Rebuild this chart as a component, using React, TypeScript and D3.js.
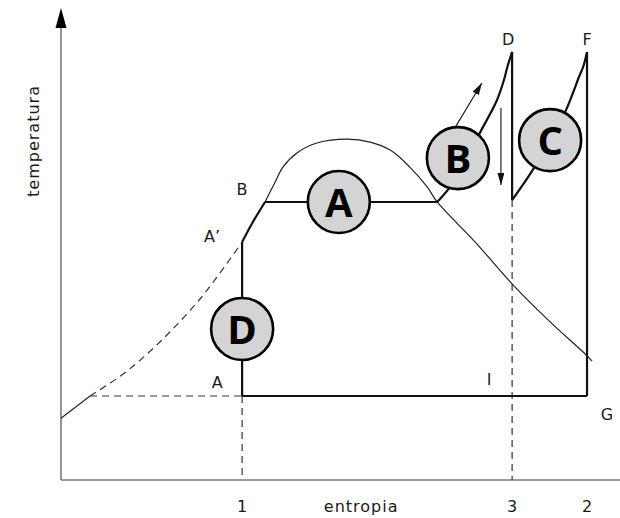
import React from "react";
import * as d3 from "d3";

const W = 620;
const H = 518;

type Pt = [number, number]; // [entropy, temperature] in arbitrary diagram units

// Saturation curve: short solid foot, dashed liquid branch, then the dome
const liquidFoot: Pt[] = [[0, 1.31], [0.52, 1.78]];
const liquidDashed: Pt[] = [
  [0.52, 1.78], [1.06, 2.2], [1.54, 2.67], [2.0, 3.2],
  [2.49, 3.84], [2.84, 4.38], [3.24, 5.04],
];
const dome: Pt[] = [
  [3.65, 5.89], [3.83, 6.31], [3.97, 6.63], [4.22, 6.93], [4.58, 7.14],
  [5.12, 7.22], [5.53, 7.16], [5.89, 6.99], [6.24, 6.63], [6.55, 6.21],
  [6.73, 5.89], [7.41, 5.04], [8.09, 4.13], [8.75, 3.35], [9.43, 2.61], [9.5, 2.52],
];

// Cycle segments
const pump: Pt[] = [[3.24, 1.78], [3.24, 5.04]];
const preheat: Pt[] = [[3.24, 5.04], [3.42, 5.44], [3.65, 5.89]];
const evaporation: Pt[] = [[3.65, 5.89], [6.73, 5.89]];
const superheat: Pt[] = [
  [6.73, 5.89], [7.01, 6.29], [7.5, 7.37], [7.8, 8.05], [7.94, 8.54], [7.98, 8.73], [8.07, 9.07],
];
const expansionHP: Pt[] = [[8.07, 9.07], [8.07, 5.93]];
const reheat: Pt[] = [
  [8.07, 5.93], [8.44, 6.57], [8.75, 7.2], [9.02, 7.8], [9.28, 8.58], [9.34, 8.75], [9.41, 9.07],
];
const expansionLP: Pt[] = [[9.41, 9.07], [9.41, 1.78]];
const condensation: Pt[] = [[9.41, 1.78], [3.24, 1.78]];

// Dashed guide lines
const guides: Pt[][] = [
  [[0.52, 1.78], [3.24, 1.78]],
  [[3.24, 1.78], [3.24, 0]],
  [[8.07, 5.93], [8.07, 0]],
];

// Direction arrows
const arrows: Pt[][] = [
  [[7.0, 7.37], [7.53, 8.41]],
  [[7.87, 7.88], [7.87, 6.25]],
];

// State point labels
const stateNames = ["A", "A\u2019", "B", "D", "F", "G", "I"];
const statePoints: Pt[] = [
  [3.24, 1.78], [3.24, 5.04], [3.65, 5.89], [8.07, 9.07], [9.41, 9.07], [9.41, 1.78], [8.07, 1.78],
];
const stateOffsets: [number, number][] = [
  [-25, -8], [-30, 0], [-23, -7], [-4, -7], [0, -7], [20, 24], [-23, -11],
];

// Process badges
const badgeNames = ["A", "B", "C", "D"];
const badgeCenters: Pt[] = [[4.97, 5.89], [7.1, 6.82], [8.75, 7.2], [3.24, 3.2]];

// Entropy tick labels
const tickLabels = ["1", "3", "2"];
const tickValues = [3.24, 8.07, 9.41];

export default function App() {
  const sx = d3.scaleLinear().domain([0, 10]).range([61, 620]);
  const ty = d3.scaleLinear().domain([0, 10]).range([480, 8]);

  const straight = d3.line<Pt>().x((d) => sx(d[0])).y((d) => ty(d[1]));
  const smooth = d3
    .line<Pt>()
    .x((d) => sx(d[0]))
    .y((d) => ty(d[1]))
    .curve(d3.curveCatmullRom.alpha(0.5));

  const font = "'DejaVu Sans', sans-serif";
  const ink = "#111";

  const x0 = sx(0);
  const y0 = ty(0);
  const yTop = ty(10);

  return (
    <svg
      width={W}
      height={H}
      style={{ position: "absolute", left: 0, top: 0, background: "#fff" }}
    >
      <defs>
        <marker
          id="head"
          markerUnits="userSpaceOnUse"
          markerWidth={13}
          markerHeight={8}
          refX={12}
          refY={3.5}
          orient="auto"
        >
          <path d="M0,0 L12,3.5 L0,7 Z" fill="#111" />
        </marker>
      </defs>

      {/* axes */}
      <line x1={x0} y1={y0} x2={W} y2={y0} stroke="#7a7a7a" strokeWidth={1.6} />
      <line x1={x0} y1={y0} x2={x0} y2={yTop + 16} stroke="#7a7a7a" strokeWidth={1.6} />
      <path
        d={`M${x0},${yTop} L${x0 - 5.5},${yTop + 20} L${x0 + 5.5},${yTop + 20} Z`}
        fill="#000"
      />

      {/* saturation curve */}
      <path d={straight(liquidFoot) ?? ""} fill="none" stroke="#222" strokeWidth={1.2} />
      <path
        d={smooth(liquidDashed) ?? ""}
        fill="none"
        stroke="#333"
        strokeWidth={1.2}
        strokeDasharray="7,5"
      />
      <path d={smooth(dome) ?? ""} fill="none" stroke="#222" strokeWidth={1.2} />

      {/* dashed guides */}
      {guides.map((g, i) => (
        <path
          key={i}
          d={straight(g) ?? ""}
          fill="none"
          stroke="#333"
          strokeWidth={1.2}
          strokeDasharray="7,5"
        />
      ))}

      {/* cycle */}
      {[pump, evaporation, expansionHP, expansionLP, condensation].map((seg, i) => (
        <path key={"s" + i} d={straight(seg) ?? ""} fill="none" stroke={ink} strokeWidth={2.2} />
      ))}
      {[preheat, superheat, reheat].map((seg, i) => (
        <path key={"c" + i} d={smooth(seg) ?? ""} fill="none" stroke={ink} strokeWidth={2.2} />
      ))}

      {/* arrows */}
      {arrows.map((a, i) => (
        <path
          key={"a" + i}
          d={straight(a) ?? ""}
          fill="none"
          stroke="#111"
          strokeWidth={1.1}
          markerEnd="url(#head)"
        />
      ))}

      {/* badges */}
      {badgeNames.map((n, i) => {
        const cx = sx(badgeCenters[i][0]);
        const cy = ty(badgeCenters[i][1]);
        return (
          <g key={"b" + n}>
            <circle cx={cx} cy={cy} r={31} fill="#d4d4d4" stroke="#000" strokeWidth={2.6} />
            <text
              x={cx}
              y={cy + 15}
              textAnchor="middle"
              fontFamily="'Open Sans', 'DejaVu Sans', sans-serif"
              fontWeight={700}
              fontSize={40}
              fill="#000"
            >
              {n}
            </text>
          </g>
        );
      })}

      {/* state labels */}
      {stateNames.map((n, i) => (
        <text
          key={"l" + i}
          x={sx(statePoints[i][0]) + stateOffsets[i][0]}
          y={ty(statePoints[i][1]) + stateOffsets[i][1]}
          textAnchor="middle"
          fontFamily={font}
          fontSize={16}
          fill="#1a1a1a"
        >
          {n}
        </text>
      ))}

      {/* tick labels */}
      {tickLabels.map((t, i) => (
        <text
          key={"t" + i}
          x={sx(tickValues[i])}
          y={512}
          textAnchor="middle"
          fontFamily={font}
          fontSize={16}
          fill="#1a1a1a"
        >
          {t}
        </text>
      ))}

      {/* axis titles */}
      <text
        x={sx(5.37)}
        y={512}
        textAnchor="middle"
        fontFamily={font}
        fontSize={16}
        letterSpacing={1}
        fill="#1a1a1a"
      >
        entropia
      </text>
      <text
        transform={`translate(39,141) rotate(-90)`}
        textAnchor="middle"
        fontFamily={font}
        fontSize={16}
        letterSpacing={1}
        fill="#1a1a1a"
      >
        temperatura
      </text>
    </svg>
  );
}
